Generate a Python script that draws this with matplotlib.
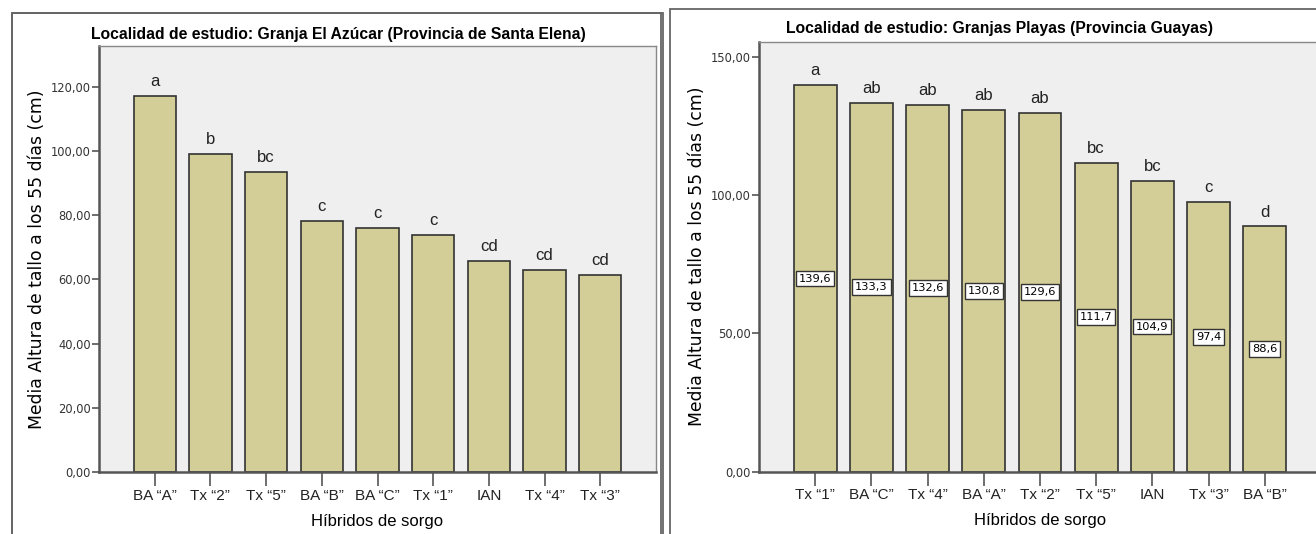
import matplotlib.pyplot as plt
from matplotlib.patches import Rectangle
from matplotlib.ticker import FuncFormatter

# Granja El Azucar (Santa Elena)
hibridos_se = ['BA “A”', 'Tx “2”', 'Tx “5”', 'BA “B”', 'BA “C”', 'Tx “1”', 'IAN', 'Tx “4”', 'Tx “3”']
altura_se = [117.2, 99.2, 93.4, 78.2, 76.1, 73.8, 65.7, 63.0, 61.5]
letras_se = ['a', 'b', 'bc', 'c', 'c', 'c', 'cd', 'cd', 'cd']

# Granjas Playas (Guayas)
hibridos_gy = ['Tx “1”', 'BA “C”', 'Tx “4”', 'BA “A”', 'Tx “2”', 'Tx “5”', 'IAN', 'Tx “3”', 'BA “B”']
altura_gy = [139.6, 133.3, 132.6, 130.8, 129.6, 111.7, 104.9, 97.4, 88.6]
letras_gy = ['a', 'ab', 'ab', 'ab', 'ab', 'bc', 'bc', 'c', 'd']

BAR = '#d3ce97'
BG = '#efefef'
W, H = 1316, 534

fig = plt.figure(figsize=(W / 100, H / 100), dpi=100)

# panel frames (they run off the bottom / right of the picture)
frames = [(12, 13, 661), (12, 13, 663), (670, 9, 1400)]
for x0, y0, x1 in frames:
    fig.patches.append(Rectangle((x0 / W, -0.1), (x1 - x0) / W, 1 - y0 / H + 0.1,
                                 transform=fig.transFigure, fill=False,
                                 edgecolor='#666666', linewidth=1.3))


def coma(v, pos):
    return f'{v:.2f}'.replace('.', ',')


def panel(rect, cats, vals, letters, ymax, ticks, title, title_x, title_y, labels):
    ax = fig.add_axes(rect)
    ax.set_facecolor(BG)
    x = list(range(len(cats)))
    ax.bar(x, vals, width=0.76, color=BAR, edgecolor='#333333', linewidth=1.2, zorder=2)
    ax.set_xlim(-1, len(cats))
    ax.set_ylim(0, ymax)
    ax.set_yticks(ticks)
    ax.yaxis.set_major_formatter(FuncFormatter(coma))
    ax.set_xticks(x)
    ax.set_xticklabels(cats, fontsize=11, family='Liberation Sans', color='#222222')
    ax.tick_params(axis='x', length=10, width=1.2, color='#555555', pad=2)
    ax.tick_params(axis='y', length=5, width=1.2, color='#555555', labelsize=8.3,
                   labelcolor='#333333', pad=1)
    for s in ['left', 'bottom']:
        ax.spines[s].set_color('#555555')
        ax.spines[s].set_linewidth(1.8)
    for s in ['top', 'right']:
        ax.spines[s].set_color('#888888')
        ax.spines[s].set_linewidth(1.0)
    for xi, v, t in zip(x, vals, letters):
        ax.annotate(t, (xi, v), xytext=(0, 5), textcoords='offset points', ha='center', va='bottom',
                    fontsize=12, family='Liberation Sans', color='#222222')
        if labels:
            ax.text(xi, v / 2, f'{v:.1f}'.replace('.', ','), ha='center', va='center', fontsize=8.2,
                    bbox=dict(boxstyle='square,pad=0.25', facecolor='white', edgecolor='#333333',
                              linewidth=1.0), zorder=3)
    ax.set_xlabel('Híbridos de sorgo', fontsize=12, family='Liberation Sans', labelpad=8)
    ax.set_ylabel('Media Altura de tallo a los 55 días (cm)', fontsize=12.4, labelpad=3)
    fig.text(title_x / W, 1 - title_y / H, title, ha='center', va='center', fontsize=11.3,
             fontweight='bold', family='Liberation Sans')
    return ax


panel([99 / W, 62 / H, 557 / W, 426.3 / H], hibridos_se, altura_se, letras_se, 132.8,
      [0, 20, 40, 60, 80, 100, 120],
      'Localidad de estudio: Granja El Azúcar (Provincia de Santa Elena)', 338, 34, False)
panel([759 / W, 62.4 / H, 562 / W, 429.9 / H], hibridos_gy, altura_gy, letras_gy, 155.4,
      [0, 50, 100, 150],
      'Localidad de estudio: Granjas Playas (Provincia Guayas)', 999, 29, True)

fig.savefig('out.png', dpi=100)
